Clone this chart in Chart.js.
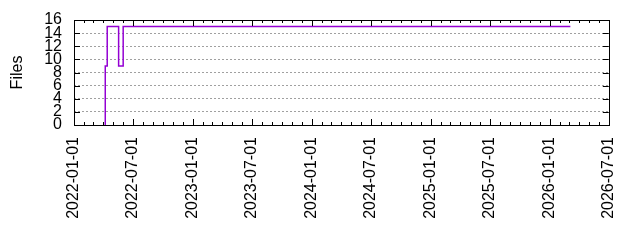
<!DOCTYPE html>
<html>
<head>
<meta charset="utf-8">
<script src="https://cdn.jsdelivr.net/npm/chart.js@4/dist/chart.umd.min.js"></script>
<style>
  html, body { margin: 0; padding: 0; background: #fff; }
  #wrap { width: 640px; height: 240px; position: relative; }
</style>
</head>
<body>
<div id="wrap"><canvas id="chart"></canvas></div>
<script>
// step data: date of change and file count from that date on
const changeDates = ['2022-04-07', '2022-04-07', '2022-04-13', '2022-05-18', '2022-06-01', '2026-03-05'];
const fileCounts = [0, 9, 15, 9, 15, 15];

const xTickLabels = [
  '2022-01-01', '2022-07-01', '2023-01-01', '2023-07-01', '2024-01-01',
  '2024-07-01', '2025-01-01', '2025-07-01', '2026-01-01', '2026-07-01'
];
const yTickValues = [0, 2, 4, 6, 8, 10, 12, 14, 16];

const toMs = (d) => Date.parse(d);
const points = changeDates.map((d, i) => ({ x: toMs(d), y: fileCounts[i] }));

// month starts for minor ticks
function monthStarts(from, to) {
  const out = [];
  const d = new Date(from);
  while (d.getTime() <= to) {
    out.push(d.getTime());
    d.setUTCMonth(d.getUTCMonth() + 1);
  }
  return out;
}

const frameTicks = {
  id: 'frameTicks',
  afterDatasetsDraw(chart) {
    const { ctx, chartArea: a, scales } = chart;
    const x = scales.x, y = scales.y;
    ctx.save();
    ctx.strokeStyle = '#000';
    ctx.lineWidth = 1;
    ctx.beginPath();
    const majors = xTickLabels.map(toMs);
    monthStarts(x.min, x.max).forEach(v => {
      const px = Math.round(x.getPixelForValue(v)) + 0.5;
      const len = majors.includes(v) ? 6 : 3;
      ctx.moveTo(px, a.bottom); ctx.lineTo(px, a.bottom - len);
      ctx.moveTo(px, a.top); ctx.lineTo(px, a.top + len);
    });
    yTickValues.forEach(v => {
      const py = Math.round(y.getPixelForValue(v)) + 0.5;
      ctx.moveTo(a.left, py); ctx.lineTo(a.left + 6, py);
      ctx.moveTo(a.right, py); ctx.lineTo(a.right - 6, py);
    });
    ctx.stroke();
    ctx.strokeRect(Math.round(a.left) + 0.5, Math.round(a.top) + 0.5,
      Math.round(a.right - a.left), Math.round(a.bottom - a.top));
    ctx.restore();
  }
};

new Chart(document.getElementById('chart'), {
  type: 'line',
  data: {
    datasets: [{
      label: 'Files',
      data: points,
      stepped: 'before',
      borderColor: '#9400d3',
      borderWidth: 1.5,
      pointRadius: 0,
      fill: false
    }]
  },
  options: {
    responsive: true,
    maintainAspectRatio: false,
    animation: false,
    layout: { padding: { top: 19, right: 31, left: 0, bottom: 0 } },
    plugins: { legend: { display: false }, tooltip: { enabled: false } },
    scales: {
      x: {
        type: 'linear',
        min: toMs(xTickLabels[0]),
        max: toMs(xTickLabels[xTickLabels.length - 1]),
        afterBuildTicks: (scale) => {
          scale.ticks = xTickLabels.map(d => ({ value: toMs(d) }));
        },
        afterFit: (scale) => { scale.height = 115; },
        ticks: {
          autoSkip: false,
          minRotation: 90,
          maxRotation: 90,
          padding: 12,
          color: '#000',
          font: { family: 'Liberation Sans', size: 16 },
          callback: (v) => new Date(v).toISOString().slice(0, 10)
        },
        grid: { display: false, drawTicks: false },
        border: { display: false }
      },
      y: {
        min: 0,
        max: 16,
        afterBuildTicks: (scale) => {
          scale.ticks = yTickValues.map(v => ({ value: v }));
        },
        afterFit: (scale) => { scale.width = 74; },
        ticks: {
          autoSkip: false,
          padding: 12,
          color: '#000',
          font: { family: 'Liberation Sans', size: 16, lineHeight: 1 }
        },
        grid: { color: '#a0a0a0', lineWidth: 1, drawTicks: false },
        border: { display: false, dash: [2, 2] },
        title: {
          display: true,
          text: 'Files',
          color: '#000',
          padding: { top: 8, bottom: 0 },
          font: { family: 'Liberation Sans', size: 16 }
        }
      }
    }
  },
  plugins: [frameTicks]
});
</script>
</body>
</html>
